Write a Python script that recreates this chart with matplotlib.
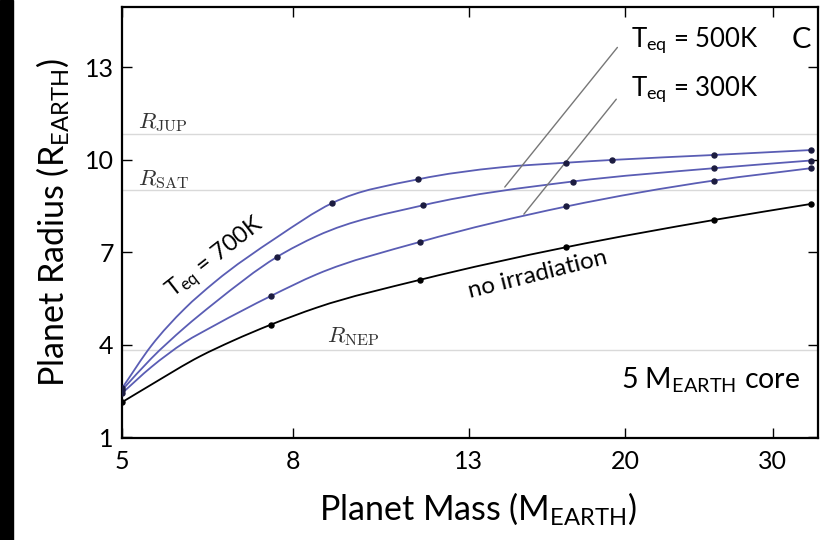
import matplotlib
matplotlib.use("Agg")
import numpy as np
import matplotlib.pyplot as plt
from matplotlib.patches import Rectangle, PathPatch
from matplotlib.path import Path

plt.rcParams['font.family'] = ['Lato', 'DejaVu Sans']
plt.rcParams['mathtext.fontset'] = 'custom'
plt.rcParams['mathtext.rm'] = 'Lato'
plt.rcParams['mathtext.it'] = 'Lato:italic'

# planet mass (Earth masses) vs radius (Earth radii)
m_none = [5.0, 5.42, 6.2, 6.78, 7.54, 8.55, 11.36, 17.0, 25.5, 33.3]
r_none = [2.13, 2.70, 3.62, 4.12, 4.65, 5.20, 6.10, 7.16, 8.04, 8.56]
pts_none = [5.0, 7.54, 11.36, 17.0, 25.5, 33.3]

m_300 = [5.0, 5.42, 5.94, 6.45, 7.54, 8.55, 11.36, 17.0, 25.5, 33.3]
r_300 = [2.42, 3.27, 4.07, 4.62, 5.58, 6.28, 7.33, 8.48, 9.32, 9.72]
pts_300 = [5.0, 7.54, 11.36, 17.0, 25.5, 33.3]

m_500 = [5.0, 5.42, 5.94, 6.45, 7.66, 8.55, 11.46, 17.3, 25.5, 33.3]
r_500 = [2.52, 3.55, 4.55, 5.35, 6.84, 7.52, 8.52, 9.29, 9.72, 9.97]
pts_500 = [5.0, 7.66, 11.46, 17.3, 25.5, 33.3]

m_700 = [5.0, 5.42, 5.94, 6.45, 7.66, 8.92, 11.3, 14.2, 17.0, 19.3, 25.5, 33.3]
r_700 = [2.58, 3.96, 5.16, 6.02, 7.48, 8.59, 9.36, 9.75, 9.90, 9.99, 10.15, 10.31]
pts_700 = [5.0, 8.92, 11.3, 17.0, 19.3, 25.5, 33.3]

# reference radii
r_jup = 10.84
r_sat = 9.01
r_nep = 3.83

x_ticks = [5, 8, 13, 20, 30]
y_ticks = [1, 4, 7, 10, 13]

blue = '#5a5db4'
dot = '#1c1c40'


def smooth_path(ms, rs):
    # cubic hermite bezier through the points, in log-mass space
    u = np.log(ms)
    v = np.array(rs, dtype=float)
    h = np.diff(u)
    d = np.diff(v) / h
    t = np.empty_like(v)
    t[0], t[-1] = d[0], d[-1]
    t[1:-1] = (d[:-1] * h[1:] + d[1:] * h[:-1]) / (h[:-1] + h[1:])
    verts = [(ms[0], v[0])]
    codes = [Path.MOVETO]
    for i in range(len(h)):
        c1 = (u[i] + h[i] / 3, v[i] + t[i] * h[i] / 3)
        c2 = (u[i + 1] - h[i] / 3, v[i + 1] - t[i + 1] * h[i] / 3)
        verts += [(np.exp(c1[0]), c1[1]), (np.exp(c2[0]), c2[1]), (ms[i + 1], v[i + 1])]
        codes += [Path.CURVE4] * 3
    return Path(verts, codes)


fig = plt.figure(figsize=(8.23, 5.40), dpi=100)
fig.patches.append(Rectangle((0, 0), 13 / 823, 1, transform=fig.transFigure,
                             color='black', zorder=-1))
ax = fig.add_axes([0.1482, 0.1889, 0.8458, 0.7981])

ax.set_xscale('log')
ax.set_xlim(5, 34)
ax.set_ylim(0.97, 14.95)

for r in [r_jup, r_sat, r_nep]:
    ax.axhline(r, color='#d9d9d9', lw=1.0, zorder=1)

ax.text(5.22, r_jup + 0.36, r'$R_{\rm JUP}$', fontsize=16.5, color='#333333',
        math_fontfamily='cm', va='center')
ax.text(5.22, r_sat + 0.34, r'$R_{\rm SAT}$', fontsize=16.5, color='#333333',
        math_fontfamily='cm', va='center')
ax.text(8.8, r_nep + 0.42, r'$R_{\rm NEP}$', fontsize=16.5, color='#333333',
        math_fontfamily='cm', va='center')


def pick(ms, rs, sel):
    return [r for m, r in zip(ms, rs) if m in sel]


for ms, rs, sel, col in [(m_700, r_700, pts_700, blue),
                         (m_500, r_500, pts_500, blue),
                         (m_300, r_300, pts_300, blue),
                         (m_none, r_none, pts_none, 'black')]:
    ax.add_patch(PathPatch(smooth_path(ms, rs), fill=False, edgecolor=col,
                           lw=1.3, zorder=3))
    ax.plot(sel, pick(ms, rs, sel), 'o', color=dot if col == blue else 'black',
            ms=3.6, zorder=4)

# leader lines for the labels
ax.annotate('', xy=(14.28, 9.04), xytext=(19.66, 13.71),
            arrowprops=dict(arrowstyle='-', color='#777777', lw=1.0))
ax.annotate('', xy=(15.05, 8.16), xytext=(19.6, 12.03),
            arrowprops=dict(arrowstyle='-', color='#777777', lw=1.0))
ax.text(20.3, 13.87, r'T$_{\mathrm{eq}}$ = 500K', fontsize=18.5, va='center')
ax.text(20.3, 12.26, r'T$_{\mathrm{eq}}$ = 300K', fontsize=18.5, va='center')
ax.text(32.5, 13.87, 'C', fontsize=21, va='center', ha='center')
ax.text(6.48, 6.81, r'T$_{\mathrm{eq}}$ = 700K', fontsize=17, rotation=38,
        ha='center', va='center')
ax.text(15.7, 6.29, 'no irradiation', fontsize=17.5, rotation=14,
        ha='center', va='center')
ax.text(32.4, 2.84, r'5 M$_{\mathrm{EARTH}}$ core', fontsize=20.5,
        ha='right', va='center')

ax.set_xticks(x_ticks)
ax.set_xticklabels([str(t) for t in x_ticks])
ax.xaxis.set_minor_locator(matplotlib.ticker.NullLocator())
ax.set_yticks(y_ticks)
ax.set_yticklabels([str(t) for t in y_ticks])

ax.tick_params(axis='both', which='major', direction='in', length=7, width=1,
               labelsize=18, top=True, right=True)
ax.tick_params(axis='x', pad=9)
ax.tick_params(axis='y', pad=6)
for sp in ax.spines.values():
    sp.set_linewidth(1.6)

ax.set_xlabel(r'Planet Mass (M$_{\mathrm{EARTH}}$)', fontsize=24.5, labelpad=12,
              x=0.511)
ax.set_ylabel(r'Planet Radius (R$_{\mathrm{EARTH}}$)', fontsize=24.5, labelpad=10)

fig.savefig('out.png', dpi=100)
